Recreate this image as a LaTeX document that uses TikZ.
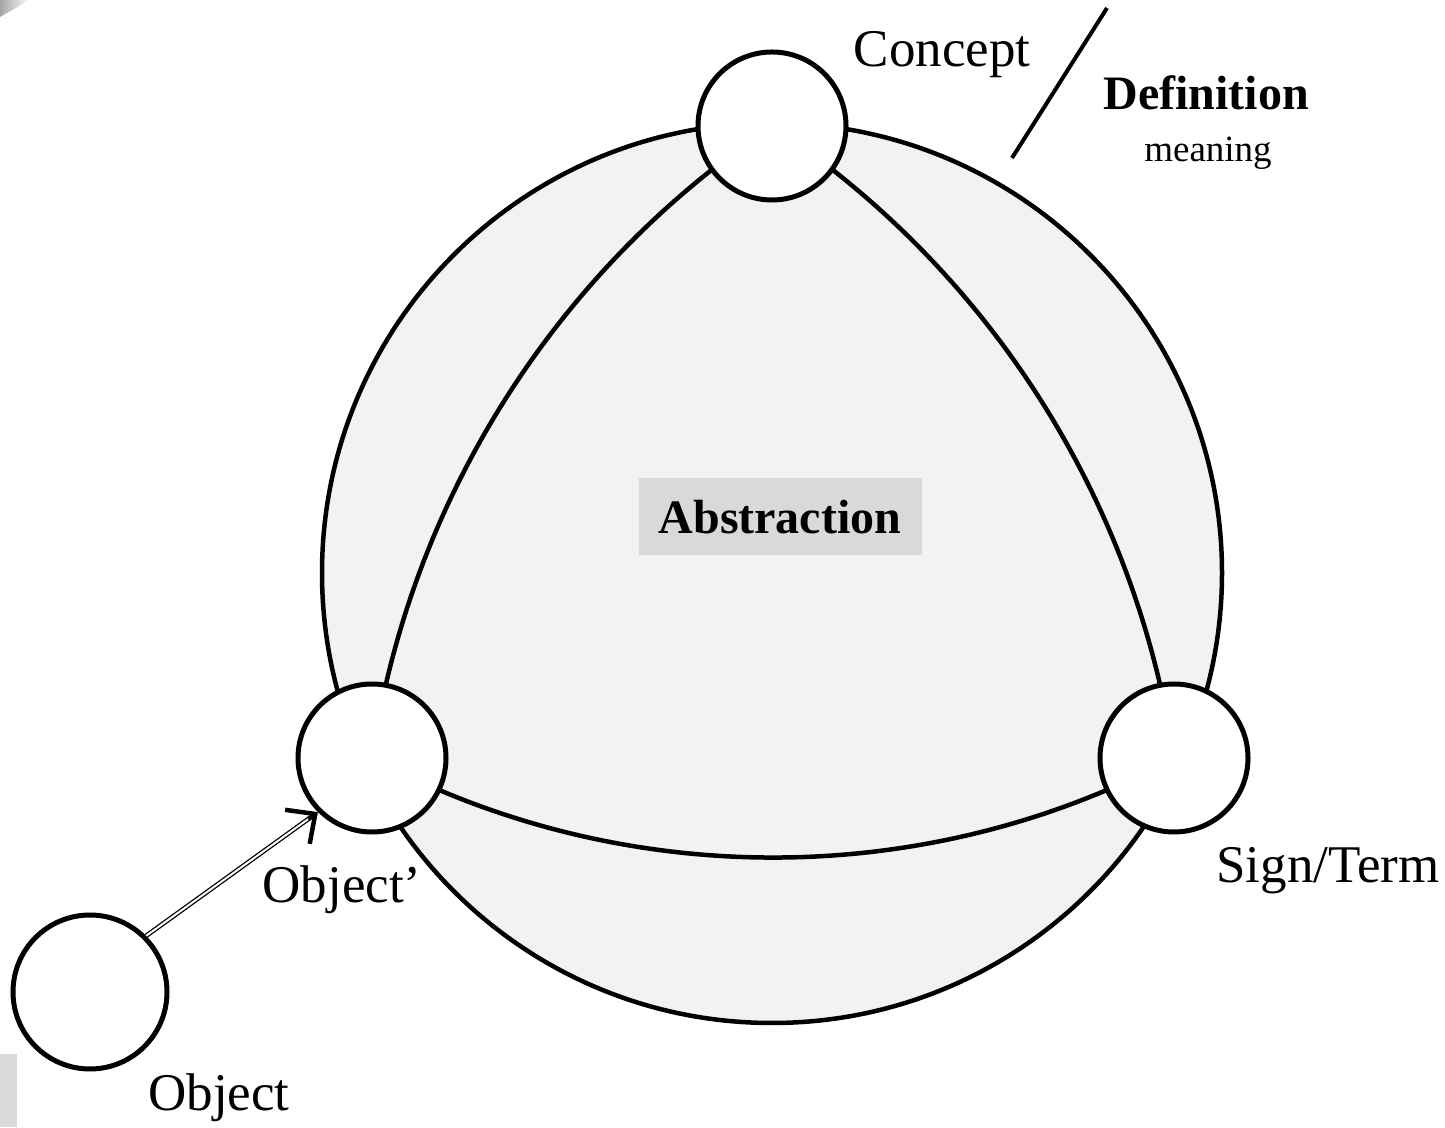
\documentclass[tikz,border=0pt]{standalone}
\usepackage{fontspec}
\setmainfont{Liberation Serif}
\usetikzlibrary{arrows.meta,calc}
\definecolor{bigfill}{HTML}{F2F2F2}
\definecolor{boxfill}{HTML}{D9D9D9}
\tikzset{
  small circ/.style={circle, draw=black, fill=white, line width=5pt, minimum size=148pt, inner sep=0pt},
  arcline/.style={line width=4.5pt},
  lbl/.style={anchor=base, inner sep=0pt, font=\fontsize{53}{60}\selectfont},
}
\begin{document}
\begin{tikzpicture}[x=1pt,y=1pt]
\useasboundingbox (0,0) rectangle (1445,1127);
% corner artefacts
\fill[boxfill] (0,0) rectangle (17,73);
\shade[left color=gray!70, right color=white] (0,1127) -- (30,1127) -- (0,1110) -- cycle;
% big circle
\node[circle, draw=black, fill=bigfill, line width=4.5pt, minimum size=900pt, inner sep=0pt] (big) at (772,554) {};
% named centres
\coordinate (cC) at (772,1001);
\coordinate (cO) at (372,369);
\coordinate (cS) at (1174,369);
% inner arcs
\draw[arcline] (cC) to[bend right=24, looseness=0.89] (cO);
\draw[arcline] (cC) to[bend left=24, looseness=0.89] (cS);
\draw[arcline] (cO) to[bend right=28, looseness=0.904] (cS);
% small circles
\node[small circ] (concept) at (cC) {};
\node[small circ] (objp) at (cO) {};
\node[small circ] (sign) at (cS) {};
\node[small circ, minimum size=154pt] (object) at (90,135) {};
% abstraction box
\node[fill=boxfill, minimum width=283pt, minimum height=77pt, inner sep=0pt,
      font=\fontsize{48}{56}\selectfont\bfseries] (abs) at (780,610) {Abstraction};
% labels
\node[lbl] (tconcept) at (942,1060) {Concept};
\node[lbl, font=\fontsize{48}{56}\selectfont\bfseries] (tdef) at (1206,1017) {Definition};
\node[lbl, font=\fontsize{37}{44}\selectfont] (tmean) at (1208,965) {meaning};
\node[lbl] (tsign) at (1328,244) {Sign/Term};
\node[lbl] (tobjp) at (342,224) {Object’};
\node[lbl] (tobj) at (219,17) {Object};
% slash
\coordinate (s1) at (1012,969);
\coordinate (s2) at (1107,1119);
\draw[line width=4pt] (s1) -- (s2);
% arrow from Object to Object'
\coordinate (a1) at (object.45);
\coordinate (a2) at (objp.225);
\draw[double=white, double distance=2pt, line width=1.3pt] (a1) -- ($(a2)!3pt!(a1)$);
\draw[line width=4pt, -{Straight Barb[length=22pt, width=42pt, line width=4.5pt]}] ($(a2)!12pt!(a1)$) -- (a2);
\end{tikzpicture}
\end{document}
